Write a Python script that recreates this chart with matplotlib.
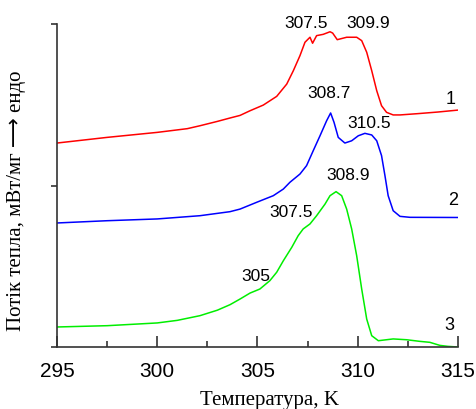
import numpy as np
import matplotlib.pyplot as plt
from matplotlib.ticker import MultipleLocator

# Curve 1 (red)
t1 = [295, 297.5, 300, 301.5, 302.13, 303, 303.63, 304.13, 304.63, 305.29, 305.96, 306.46,
      306.79, 307.12, 307.37, 307.62, 307.75, 307.95, 308.28, 308.62, 308.75, 308.98,
      309.45, 309.95, 310.2, 310.45, 310.7, 310.95, 311.19, 311.44, 311.77, 312.11,
      313, 314, 315]
y1 = [1.263, 1.298, 1.329, 1.352, 1.370, 1.397, 1.418, 1.434, 1.463, 1.498, 1.552, 1.628,
      1.711, 1.804, 1.887, 1.918, 1.881, 1.928, 1.936, 1.952, 1.944, 1.903,
      1.918, 1.918, 1.897, 1.825, 1.711, 1.587, 1.494, 1.453, 1.437, 1.437,
      1.445, 1.455, 1.467]

# Curve 2 (blue)
t2 = [295, 297.5, 300, 302.13, 303.63, 304.13, 304.96, 305.79, 306.29, 306.62, 307.12,
      307.45, 307.78, 308.12, 308.45, 308.65, 308.82, 309.03, 309.36, 309.7, 310.03,
      310.36, 310.7, 310.95, 311.19, 311.36, 311.52, 311.77, 312.11, 312.61, 315]
y2 = [0.768, 0.782, 0.793, 0.813, 0.838, 0.854, 0.896, 0.937, 0.978, 1.020, 1.071,
      1.123, 1.215, 1.308, 1.401, 1.449, 1.391, 1.298, 1.263, 1.277, 1.308,
      1.323, 1.313, 1.277, 1.185, 1.061, 0.937, 0.844, 0.809, 0.803, 0.802]

# Curve 3 (green)
t3 = [295, 297.5, 300, 301, 302.13, 303, 303.63, 304.13, 304.63, 305.12, 305.62, 305.96,
      306.29, 306.71, 307.03, 307.28, 307.62, 307.95, 308.37, 308.62, 308.92, 309.2,
      309.45, 309.7, 309.95, 310.2, 310.45, 310.7, 311.03, 311.77, 312.44, 313.1,
      313.6, 314.1, 314.5, 315]
y3 = [0.124, 0.132, 0.149, 0.165, 0.194, 0.228, 0.262, 0.297, 0.334, 0.359, 0.411, 0.463,
      0.534, 0.617, 0.689, 0.731, 0.762, 0.813, 0.885, 0.937, 0.962, 0.937,
      0.854, 0.731, 0.565, 0.359, 0.173, 0.070, 0.039, 0.050, 0.045, 0.035,
      0.029, 0.010, 0.004, 0.0]

# peak labels: text, x, y
peaks = [("307.5", 307.42, 2.012), ("309.9", 310.51, 2.012),
         ("308.7", 308.57, 1.579), ("310.5", 310.56, 1.393),
         ("308.9", 309.51, 1.071), ("307.5", 306.67, 0.836), ("305", 304.93, 0.440)]
curve_labels = [("1", 314.65, 1.536), ("2", 314.75, 0.916), ("3", 314.55, 0.142)]

fig = plt.figure(figsize=(4.77, 4.10), dpi=100)
ax = fig.add_axes([0.1195, 0.1512, 0.8405, 0.7878])

ax.plot(t1, y1, color='#ff0000', lw=1.1)
ax.plot(t2, y2, color='#0000ff', lw=1.1)
ax.plot(t3, y3, color='#00ee00', lw=1.1)

for txt, x, y in peaks:
    ax.text(x, y, txt, fontsize=12.5, family='Liberation Sans', ha='center', va='center', clip_on=False)
for txt, x, y in curve_labels:
    ax.text(x, y, txt, fontsize=13, family='Liberation Sans', ha='center', va='center', clip_on=False)

ax.set_xlim(295, 315)
ax.set_ylim(0, 2)
ax.spines['top'].set_visible(False)
ax.spines['right'].set_visible(False)
for s in ('left', 'bottom'):
    ax.spines[s].set_color('#333333')
    ax.spines[s].set_linewidth(1.2)

ax.xaxis.set_major_locator(MultipleLocator(5))
ax.xaxis.set_minor_locator(MultipleLocator(2.5))
ax.yaxis.set_major_locator(MultipleLocator(1))
ax.tick_params(axis='x', which='major', direction='in', length=8, width=1.2, pad=10,
               labelsize=15, colors='#333333', labelcolor='black')
ax.tick_params(axis='x', which='minor', direction='in', length=4.5, width=1.2, colors='#333333')
ax.tick_params(axis='y', which='major', direction='out', length=4.5, width=1.2,
               labelleft=False, colors='#333333')
for lab in ax.get_xticklabels():
    lab.set_family('Liberation Sans')

fig.text(0.565, 0.024, 'Температура, K', fontsize=15, family=['Liberation Serif', 'DejaVu Sans'],
         ha='center', va='center')
fig.text(0.034, 0.51, 'Потік тепла, мВт/мг ⟶ ендо', fontsize=15,
         family=['Liberation Serif', 'DejaVu Sans'], rotation=90, ha='center', va='center')

fig.savefig('out.png', dpi=100)
